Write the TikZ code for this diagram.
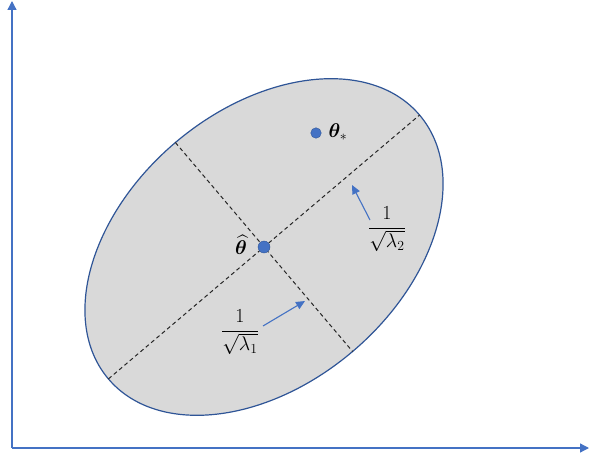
\documentclass[tikz,border=0pt]{standalone}
\usepackage{amsmath,bm}
\usetikzlibrary{shapes.geometric,arrows.meta}
\definecolor{axblue}{RGB}{68,114,196}
\definecolor{edgeblue}{RGB}{47,85,151}
\definecolor{fillgray}{RGB}{217,217,217}
\begin{document}
\begin{tikzpicture}[x=1pt,y=1pt,
  axisarrow/.style={axblue, line width=1.3pt, -{Triangle[width=9pt,length=9pt]}},
  pointer/.style={axblue, line width=1.1pt, -{Triangle[width=8pt,length=9pt]}},
  principal/.style={black!85, line width=1pt, dash pattern=on 4pt off 3pt},
  dotnode/.style={circle, fill=axblue, draw=edgeblue, line width=0.4pt, inner sep=0pt},
  lbl/.style={font=\LARGE, scale=1.15, inner sep=0pt}]
\useasboundingbox (0,0) rectangle (589,461);
% axes
\coordinate (O) at (12,13);
\coordinate (ytop) at (12,460);
\coordinate (xend) at (589,13);
\draw[axisarrow] (O) -- (ytop);
\draw[axisarrow] (O) -- (xend);
% ellipse
\node[ellipse, draw=edgeblue, fill=fillgray, line width=1.2pt,
      minimum width=408pt, minimum height=274pt, inner sep=0pt, outer sep=0pt,
      rotate=40.3] (E) at (264,214) {};
\draw[principal] (E.west) -- (E.east);
\draw[principal] (E.north) -- (E.south);
% points
\node[dotnode, minimum size=12pt] (C) at (E.center) {};
\node[dotnode, minimum size=10.5pt] (S) at (316,328) {};
\node[lbl] (thhat) at (241,216) {$\widehat{\bm{\theta}}$};
\node[lbl] (thstar) at (338,329) {$\bm{\theta}_{*}$};
% eigen labels
\node[lbl] (f1) at (240,129) {$\dfrac{1}{\sqrt{\lambda_1}}$};
\node[lbl] (f2) at (387,232) {$\dfrac{1}{\sqrt{\lambda_2}}$};
\coordinate (a1s) at (263,135);
\coordinate (a1e) at (305,160);
\coordinate (a2s) at (370,241);
\coordinate (a2e) at (352,276);
\draw[pointer] (a1s) -- (a1e);
\draw[pointer] (a2s) -- (a2e);
\end{tikzpicture}
\end{document}
